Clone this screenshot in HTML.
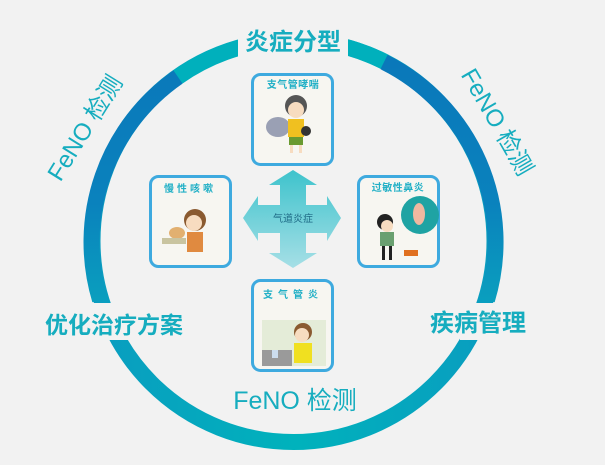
<!DOCTYPE html>
<html><head><meta charset="utf-8"><style>
html,body{margin:0;padding:0;background:#f2f2f2;}
body{width:605px;height:465px;overflow:hidden;position:relative;font-family:"Liberation Sans","Noto Sans CJK SC",sans-serif;}
</style></head><body>
<svg width="605" height="465" viewBox="0 0 605 465" xmlns="http://www.w3.org/2000/svg" style="position:absolute;left:0;top:0">
<defs>
<linearGradient id="lg" gradientUnits="userSpaceOnUse" x1="0" y1="60" x2="0" y2="320"><stop offset="0" stop-color="#0a78ba"/><stop offset="0.55" stop-color="#0a82bd"/><stop offset="1" stop-color="#0aa4be"/></linearGradient>
<linearGradient id="bg2" gradientUnits="userSpaceOnUse" x1="90" y1="0" x2="500" y2="0"><stop offset="0" stop-color="#0a9cc0"/><stop offset="0.5" stop-color="#00b2bc"/><stop offset="1" stop-color="#0a9cc0"/></linearGradient>
<linearGradient id="ag" x1="0" y1="0" x2="0" y2="1"><stop offset="0" stop-color="#3ec3cc"/><stop offset="1" stop-color="#a6dfe6"/></linearGradient>
</defs>
<!-- base ring -->
<circle cx="293.5" cy="241" r="201" fill="none" stroke="url(#bg2)" stroke-width="16"/>
<!-- top teal -->
<path d="M 178 77 A 201 201 0 0 1 385 62" fill="none" stroke="#00b0bc" stroke-width="16"/>
<!-- left dark arc -->
<path d="M 178 77 A 201 201 0 0 0 100 300" fill="none" stroke="url(#lg)" stroke-width="16"/>
<!-- right dark arc -->
<path d="M 384 62 A 201 201 0 0 1 487 300" fill="none" stroke="url(#lg)" stroke-width="16"/>
<!-- gaps -->
<rect x="238" y="20" width="110" height="40" fill="#f2f2f2"/>
<rect x="60" y="303" width="70" height="37" fill="#f2f2f2"/>
<rect x="460" y="303" width="70" height="37" fill="#f2f2f2"/>

<text x="293" y="50" text-anchor="middle" font-size="24" font-weight="bold" fill="#16adbf" font-family="Liberation Sans,Noto Sans CJK SC,sans-serif">炎症分型</text>
<text x="114" y="333" text-anchor="middle" font-size="23" font-weight="bold" fill="#16adbf" font-family="Liberation Sans,Noto Sans CJK SC,sans-serif">优化治疗方案</text>
<text x="478" y="331" text-anchor="middle" font-size="24" font-weight="bold" fill="#16adbf" font-family="Liberation Sans,Noto Sans CJK SC,sans-serif">疾病管理</text>
<text x="295" y="409" text-anchor="middle" font-size="25" fill="#16adbf" font-family="Liberation Sans,Noto Sans CJK SC,sans-serif">FeNO 检测</text>
<text x="0" y="0" transform="translate(85,128) rotate(-58)" text-anchor="middle" font-size="24" fill="#16adbf" font-family="Liberation Sans,Noto Sans CJK SC,sans-serif" dy="8">FeNO 检测</text>
<text x="0" y="0" transform="translate(497,122) rotate(60)" text-anchor="middle" font-size="24" fill="#16adbf" font-family="Liberation Sans,Noto Sans CJK SC,sans-serif" dy="8">FeNO 检测</text>

<!-- arrow cross -->
<path d="M293 170 L317 185 L306 185 L306 205 L327 205 L327 196 L341 218 L327 241 L327 233 L306 233 L306 253 L317 253 L293 268 L269 253 L280 253 L280 233 L258 233 L258 241 L243 218 L258 196 L258 205 L280 205 L280 185 L269 185 Z" fill="url(#ag)"/>
<text x="293" y="222" text-anchor="middle" font-size="10" fill="#1e6a86" font-family="Liberation Sans,Noto Sans CJK SC,sans-serif">气道炎症</text>

<!-- cards -->
<g stroke="#3eaadf" stroke-width="3" fill="#f7f6f1">
<rect x="252.5" y="74.5" width="80" height="90" rx="8"/>
<rect x="150.5" y="176.5" width="80" height="90" rx="8"/>
<rect x="358.5" y="176.5" width="80" height="90" rx="8"/>
<rect x="252.5" y="280.5" width="80" height="90" rx="8"/>
</g>
<g font-size="10" font-weight="bold" fill="#22b0c6" text-anchor="middle" font-family="Liberation Sans,Noto Sans CJK SC,sans-serif">
<text x="293" y="88" letter-spacing="0.5">支气管哮喘</text>
<text x="190" y="192" letter-spacing="3">慢性咳嗽</text>
<text x="398" y="191" letter-spacing="0.5">过敏性鼻炎</text>
<text x="293" y="298" letter-spacing="5">支气管炎</text>
</g>
<!-- simple illustrations -->
<!-- top card boy -->
<ellipse cx="278" cy="127" rx="12" ry="10" fill="#9aa0b4"/>
<circle cx="296" cy="106" r="11" fill="#555"/>
<circle cx="296" cy="110" r="8" fill="#f7dcc0"/>
<rect x="288" y="119" width="16" height="18" fill="#f0c020"/>
<circle cx="306" cy="131" r="5" fill="#333"/>
<rect x="289" y="137" width="14" height="8" fill="#6a9a30"/>
<rect x="290" y="145" width="3" height="8" fill="#f7dcc0"/><rect x="299" y="145" width="3" height="8" fill="#f7dcc0"/>
<!-- left card girl -->
<circle cx="195" cy="220" r="11" fill="#8a5a30"/>
<circle cx="194" cy="223" r="8" fill="#f7dcc0"/>
<rect x="187" y="232" width="16" height="20" fill="#e08a40"/>
<ellipse cx="177" cy="233" rx="8" ry="6" fill="#e2b070"/>
<rect x="162" y="238" width="24" height="6" fill="#c9c4a0"/>
<!-- right card -->
<circle cx="420" cy="215" r="19" fill="#1fa3a3"/>
<ellipse cx="419" cy="214" rx="6" ry="11" fill="#f0b8a0"/>
<circle cx="385" cy="222" r="8" fill="#222"/>
<circle cx="387" cy="226" r="6" fill="#f7dcc0"/>
<rect x="380" y="232" width="14" height="14" fill="#6aa070"/>
<rect x="382" y="246" width="3" height="14" fill="#222"/><rect x="389" y="246" width="3" height="14" fill="#222"/>
<rect x="404" y="250" width="14" height="6" fill="#e07020"/>
<!-- bottom card -->
<rect x="262" y="320" width="64" height="46" fill="#e4ecd8"/>
<rect x="262" y="350" width="30" height="16" fill="#9a9a9a"/>
<circle cx="303" cy="332" r="9" fill="#8a5a30"/>
<circle cx="302" cy="335" r="7" fill="#f7dcc0"/>
<rect x="294" y="343" width="18" height="20" fill="#f0e020"/>
<rect x="272" y="350" width="6" height="8" fill="#cde"/>
</svg>
</body></html>
